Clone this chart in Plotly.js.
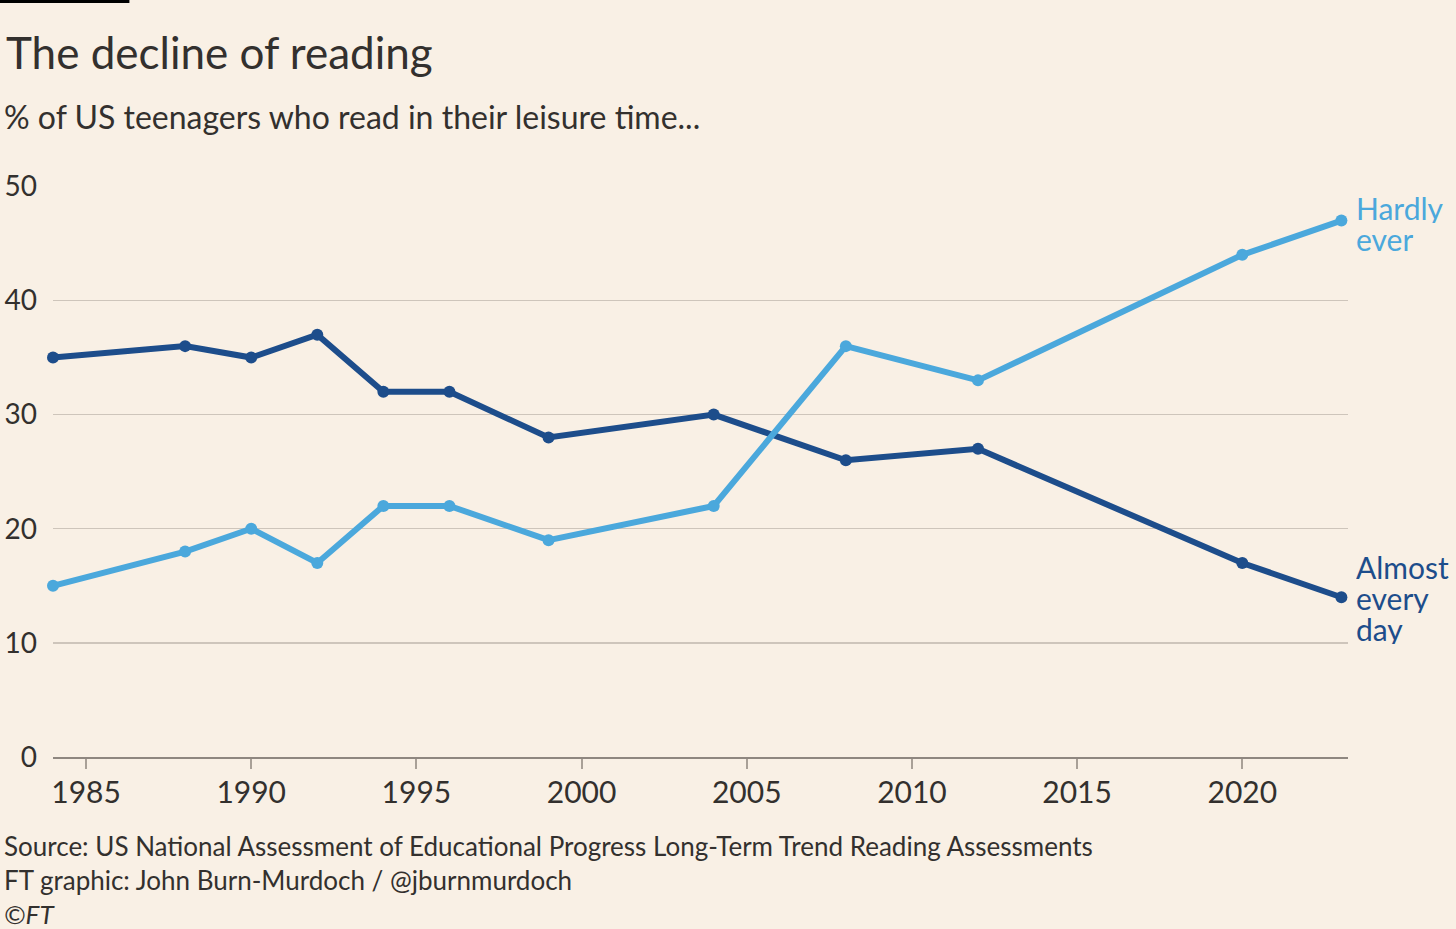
<!DOCTYPE html>
<html>
<head>
<meta charset="utf-8">
<script src="https://cdn.plot.ly/plotly-3.0.1.min.js"></script>
<style>
  html, body { margin: 0; padding: 0; background: #F9F0E5; }
  #chart { width: 1456px; height: 929px; }
</style>
</head>
<body>
<div id="chart"></div>
<script>
const years = [1984, 1988, 1990, 1992, 1994, 1996, 1999, 2004, 2008, 2012, 2020, 2023];
const almostEveryDay = [35, 36, 35, 37, 32, 32, 28, 30, 26, 27, 17, 14];
const hardlyEver = [15, 18, 20, 17, 22, 22, 19, 22, 36, 33, 44, 47];
const xTicks = [1985, 1990, 1995, 2000, 2005, 2010, 2015, 2020];
const yTicks = [0, 10, 20, 30, 40, 50];
const labelAlmostLines = ['Almost', 'every', 'day'];
const labelHardlyLines = ['Hardly', 'ever'];

const darkBlue = '#1D4D8B';
const lightBlue = '#4BA8DC';
const textColor = '#33302E';
const font = 'Lato, "Open Sans", sans-serif';

const traces = [
  {
    x: years, y: almostEveryDay, mode: 'lines+markers', name: 'Almost every day',
    line: { color: darkBlue, width: 6 }, marker: { color: darkBlue, size: 12 },
    cliponaxis: false, hoverinfo: 'x+y'
  },
  {
    x: years, y: hardlyEver, mode: 'lines+markers', name: 'Hardly ever',
    line: { color: lightBlue, width: 6 }, marker: { color: lightBlue, size: 12 },
    cliponaxis: false, hoverinfo: 'x+y'
  }
];

const lastX = years[years.length - 1];
const lineGap = 31;

function endLabels(lines, yVal, color, firstShift) {
  return lines.map((t, i) => ({
    text: t, x: lastX, y: yVal, xref: 'x', yref: 'y',
    xanchor: 'left', yanchor: 'middle', xshift: 13,
    yshift: firstShift - i * lineGap, showarrow: false,
    height: 30,
    font: { family: font, size: 30, color: color }
  }));
}

const layout = {
  width: 1456, height: 929,
  paper_bgcolor: '#F9F0E5', plot_bgcolor: '#F9F0E5',
  showlegend: false,
  margin: { l: 53, r: 108, t: 186, b: 172 },
  font: { family: font, color: textColor },
  xaxis: {
    range: [1984, 2023.2],
    tickvals: xTicks, ticktext: xTicks.map(String),
    showgrid: false, zeroline: false,
    showline: true, linecolor: '#8F8780', linewidth: 2,
    ticks: 'outside', ticklen: 10, tickwidth: 2, tickcolor: '#A9A097',
    tickfont: { family: font, size: 30, color: textColor },
    ticklabelstandoff: -2,
    fixedrange: true
  },
  yaxis: {
    range: [0, 50.03],
    tickvals: yTicks, ticktext: yTicks.map(String),
    showgrid: true, gridcolor: '#CEC5BB', gridwidth: 1.5,
    zeroline: false, showline: false, ticks: '',
    tickfont: { family: font, size: 28, color: textColor },
    ticklabelstandoff: 15,
    fixedrange: true
  },
  annotations: [
    {
      text: 'The decline of reading',
      xref: 'paper', yref: 'paper', x: -0.0379, y: 1.0, xanchor: 'left', yanchor: 'middle',
      yshift: 134, showarrow: false,
      font: { family: font, size: 44, color: textColor }
    },
    {
      text: '% of US teenagers who read in their leisure time...',
      xref: 'paper', yref: 'paper', x: -0.039, y: 1.0, xanchor: 'left', yanchor: 'middle',
      yshift: 70, showarrow: false,
      font: { family: font, size: 32, color: textColor }
    },
    {
      text: 'Source: US National Assessment of Educational Progress Long-Term Trend Reading Assessments<br>FT graphic: John Burn-Murdoch / @jburnmurdoch<br><i>©FT</i>',
      xref: 'paper', yref: 'paper', x: -0.0395, y: 0, xanchor: 'left', yanchor: 'top',
      yshift: -71, showarrow: false, align: 'left',
      font: { family: font, size: 26, color: textColor }
    },
    ...endLabels(labelHardlyLines, hardlyEver[hardlyEver.length - 1], lightBlue, 13),
    ...endLabels(labelAlmostLines, almostEveryDay[almostEveryDay.length - 1], darkBlue, 30)
  ],
  shapes: [
    {
      type: 'rect', xref: 'paper', yref: 'paper',
      x0: -0.041, x1: 0.059,
      ysizemode: 'pixel', yanchor: 1.0, y0: 183, y1: 187,
      fillcolor: '#000000', line: { width: 0 }
    }
  ]
};

Plotly.newPlot('chart', traces, layout, { displayModeBar: false, staticPlot: true });
</script>
</body>
</html>
